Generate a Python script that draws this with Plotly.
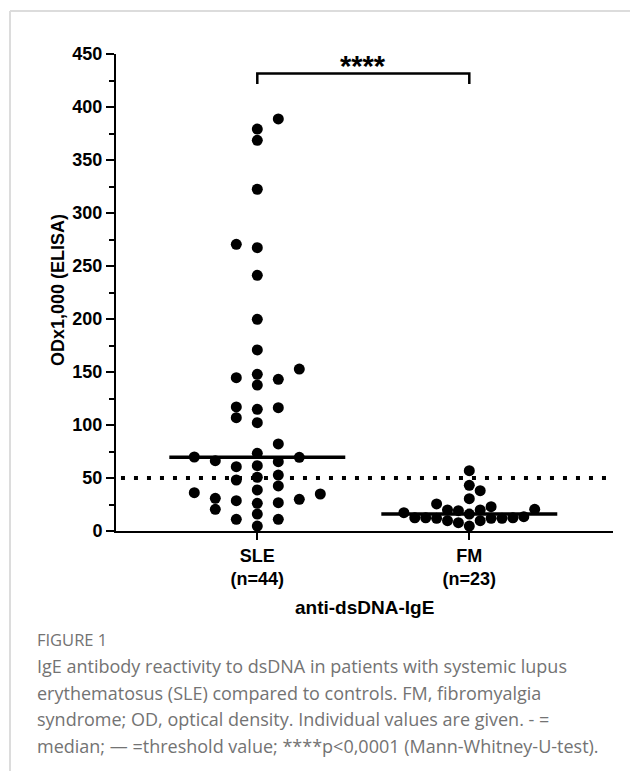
import numpy as np
import plotly.graph_objects as go

# ---------------- data ----------------
categories = ["SLE", "FM"]
group_sizes = ["(n=44)", "(n=23)"]
x_title = "anti-dsDNA-IgE"
y_title = "ODx1,000 (ELISA)"
significance = "****"
threshold = 50
y_ticks = [0, 50, 100, 150, 200, 250, 300, 350, 400, 450]

sle_values = [388.7, 379.2, 368.6, 322.4, 267.3, 270.5, 241.2, 199.7, 170.8,
              144.6, 143.1, 147.8, 137.7, 152.8, 116.3, 106.9, 117.0, 102.2, 114.8,
              82.1, 69.5, 66.3, 73.3, 65.4, 61.6, 60.7, 52.8, 50.7, 48.1, 69.8,
              36.1, 38.7, 34.9, 42.5, 26.1, 28.6, 30.8, 26.7, 29.9, 16.0, 20.5,
              4.7, 11.0, 11.0]
fm_values = [56.9, 43.1, 38.0, 30.5, 25.5, 17.3, 19.8, 9.7, 13.5, 12.5, 12.5,
             16.0, 4.7, 22.9, 12.5, 20.5, 9.7, 12.0, 19.8, 7.8, 12.0, 12.0, 19.2]

# ---------------- geometry / style ----------------
SHIFT = 8                      # page body margin
W, H = 638 - SHIFT, 771 - SHIFT


def R(v):
    """reference-screenshot pixel -> figure pixel"""
    return v - SHIFT


PL, PR, PT, PB = R(116), R(613), R(54), R(531)      # plot area in figure pixels
Y_MAX = 450
X_MIN = -0.6665
PX_PER_X = 212.0
X_MAX = X_MIN + (PR - PL) / PX_PER_X
PX_PER_Y = (PB - PT) / Y_MAX
MARKER = 11
SLOT_PX = {"SLE": 21.0, "FM": 10.9}
HALF_MEDIAN = 0.415
FONT = "Liberation Sans, Arial, sans-serif"
CAP_FONT = "Open Sans, sans-serif"
CAP_COLOR = "#737373"


def swarm(values, slot_px, diam_px):
    """Greedy beeswarm on a grid of horizontal slots; returns x offsets in data units."""
    vals = np.asarray(values, dtype=float)
    order = np.argsort(vals, kind="stable")
    placed = []
    offs = np.zeros(len(vals))
    left = right = 0
    for idx in order:
        y = vals[idx] * PX_PER_Y

        def free(k):
            x = k * slot_px
            return all((x - px) ** 2 + (y - py) ** 2 >= (diam_px * 0.97) ** 2 for px, py in placed)

        k = 0
        chosen = None
        while chosen is None:
            if k == 0:
                if free(0):
                    chosen = 0
            else:
                fl, fr = free(-k), free(k)
                if fl and fr:
                    chosen = k if right < left else -k
                elif fl:
                    chosen = -k
                elif fr:
                    chosen = k
            k += 1
        if chosen < 0:
            left += 1
        elif chosen > 0:
            right += 1
        placed.append((chosen * slot_px, y))
        offs[idx] = chosen * slot_px / PX_PER_X
    return offs


def px_x(ref_px):
    return (R(ref_px) - PL) / (PR - PL)


def px_y(ref_py):
    return (PB - R(ref_py)) / (PB - PT)


fig = go.Figure()
shapes = []
for i, (cat, vals) in enumerate(zip(categories, [sle_values, fm_values])):
    offs = swarm(vals, SLOT_PX[cat], MARKER)
    fig.add_trace(go.Scatter(
        x=i + offs, y=vals, mode="markers",
        marker=dict(size=MARKER, color="black", line=dict(width=0)),
        cliponaxis=False, showlegend=False, hoverinfo="y"))
    med = float(np.median(vals))
    shapes.append(dict(type="line", xref="x", yref="y", x0=i - HALF_MEDIAN, x1=i + HALF_MEDIAN,
                       y0=med, y1=med, line=dict(color="black", width=3.5)))

# threshold
shapes.append(dict(type="line", xref="paper", yref="y", x0=0.01, x1=1.0, y0=threshold, y1=threshold,
                   line=dict(color="black", width=4, dash="4px,9px")))

# significance bracket
br_top = (531 - 73.5) / PX_PER_Y
br_bot = (531 - 84) / PX_PER_Y
shapes.append(dict(type="path", xref="x", yref="y",
                   path=f"M 0,{br_bot} L 0,{br_top} L 1,{br_top} L 1,{br_bot}",
                   line=dict(color="black", width=2.5)))

# figure frame (left and top)
shapes.append(dict(type="line", xref="paper", yref="paper", x0=px_x(10), x1=px_x(10),
                   y0=px_y(11), y1=px_y(780), line=dict(color="#dcdcdc", width=2)))
shapes.append(dict(type="line", xref="paper", yref="paper", x0=px_x(10), x1=px_x(650),
                   y0=px_y(11), y1=px_y(11), line=dict(color="#dcdcdc", width=2)))

annotations = [
    dict(text=f"<b>{significance}</b>", xref="x", yref="paper", x=0.5, y=px_y(66),
         showarrow=False, font=dict(family=FONT, size=29, color="black"), yanchor="middle"),
    dict(text=f"<b>{y_title}</b>", xref="paper", yref="paper", x=px_x(58), y=px_y(290),
         showarrow=False, textangle=-90, font=dict(family=FONT, size=18, color="black"),
         xanchor="center", yanchor="middle"),
    dict(text=f"<b>{x_title}</b>", xref="paper", yref="paper", x=px_x(364.5), y=px_y(607),
         showarrow=False, font=dict(family=FONT, size=19, color="black"),
         xanchor="center", yanchor="middle"),
]

caption_title = "FIGURE 1"
caption_lines = [
    "IgE antibody reactivity to dsDNA in patients with systemic lupus",
    "erythematosus (SLE) compared to controls. FM, fibromyalgia",
    "syndrome; OD, optical density. Individual values are given. - =",
    "median; \u2014 =threshold value; ****p<0,0001 (Mann-Whitney-U-test).",
]
annotations.append(dict(text=caption_title, xref="paper", yref="paper", x=px_x(35), y=px_y(639),
                        showarrow=False, xanchor="left", yanchor="middle",
                        font=dict(family=CAP_FONT, size=16.5, color=CAP_COLOR)))
for j, line in enumerate(caption_lines):
    annotations.append(dict(text=line, xref="paper", yref="paper", x=px_x(35), y=px_y(666 + 26.5 * j),
                            showarrow=False, xanchor="left", yanchor="middle",
                            font=dict(family=CAP_FONT, size=18, color=CAP_COLOR)))

fig.update_layout(
    width=W, height=H,
    margin=dict(l=PL, r=W - PR, t=PT, b=H - PB, pad=0),
    paper_bgcolor="white", plot_bgcolor="white",
    shapes=shapes, annotations=annotations,
    xaxis=dict(range=[X_MIN, X_MAX], tickvals=list(range(len(categories))),
               ticktext=[f"<b>{c}</b><br><b>{n}</b>" for c, n in zip(categories, group_sizes)],
               ticks="outside", ticklen=7, tickwidth=2, tickcolor="black",
               showline=True, linewidth=2, linecolor="black", showgrid=False, zeroline=False,
               tickfont=dict(family=FONT, size=18, color="black")),
    yaxis=dict(range=[0, Y_MAX], tickvals=y_ticks, ticktext=[f"<b>{t}</b>" for t in y_ticks],
               ticks="outside", ticklen=8, tickwidth=2, tickcolor="black",
               minor=dict(ticks="outside", ticklen=5, tickwidth=2, tickcolor="black", dtick=25, tick0=0),
               showline=True, linewidth=2, linecolor="black", showgrid=False, zeroline=False,
               tickfont=dict(family=FONT, size=18, color="black")),
)

fig.write_html("out.html")
